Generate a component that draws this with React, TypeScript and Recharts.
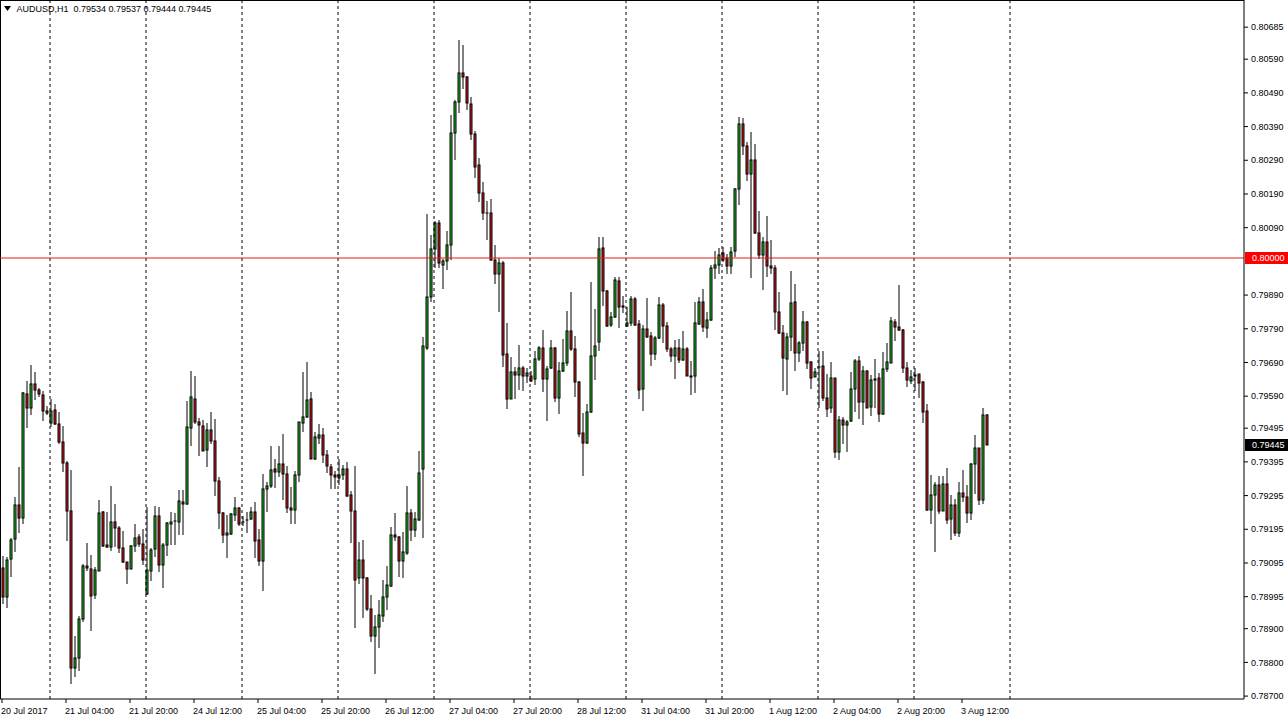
import { ComposedChart, Bar, XAxis, YAxis, ReferenceLine } from 'recharts'

// AUDUSD H1, one bar per hour from 20 Jul 2017 12:00 to 3 Aug 2017 18:00
const opens = [
  0.7908, 0.78993, 0.79107, 0.79166, 0.79267, 0.79229, 0.79596, 0.79555, 0.79626, 0.79609,
  0.79594, 0.79547, 0.7951, 0.79549, 0.79507, 0.79455, 0.79392, 0.79248, 0.78783, 0.78813,
  0.78929, 0.79087, 0.79077, 0.79, 0.79072, 0.79247, 0.79149, 0.79141, 0.79216, 0.79199,
  0.79139, 0.79098, 0.79078, 0.79146, 0.79172, 0.79151, 0.79003, 0.79072, 0.79136, 0.79235,
  0.79088, 0.79148, 0.79212, 0.79219, 0.79218, 0.79277, 0.79269, 0.79497, 0.79581, 0.79514,
  0.79502, 0.7943, 0.79489, 0.79458, 0.79339, 0.79243, 0.79178, 0.79181, 0.79238, 0.79259,
  0.79216, 0.79222, 0.79225, 0.79247, 0.79163, 0.791, 0.79314, 0.79322, 0.79375, 0.79364,
  0.79388, 0.79359, 0.79259, 0.79252, 0.79356, 0.7951, 0.79527, 0.79581, 0.79405, 0.79465,
  0.79474, 0.79415, 0.79379, 0.79356, 0.79356, 0.79356, 0.79374, 0.79296, 0.79249, 0.79049,
  0.79104, 0.7905, 0.78958, 0.78879, 0.78904, 0.78938, 0.78993, 0.79026, 0.79179, 0.79173,
  0.79102, 0.79126, 0.79243, 0.79193, 0.79222, 0.79375, 0.79733, 0.79883, 0.80028, 0.80105,
  0.7998, 0.79991, 0.80039, 0.8037, 0.80463, 0.80548, 0.80537, 0.80457, 0.80367, 0.80275,
  0.80194, 0.80133, 0.80133, 0.79993, 0.79952, 0.79985, 0.79715, 0.79582, 0.79662, 0.79653,
  0.79675, 0.7965, 0.7965, 0.79641, 0.797, 0.79733, 0.79641, 0.79673, 0.79733, 0.79585,
  0.79665, 0.79687, 0.79784, 0.7973, 0.79633, 0.79482, 0.79451, 0.79543, 0.7971, 0.79752,
  0.8003, 0.79903, 0.79802, 0.79824, 0.79933, 0.79858, 0.79797, 0.79806, 0.79878, 0.79804,
  0.79611, 0.79789, 0.79769, 0.79715, 0.79763, 0.79861, 0.79797, 0.7973, 0.7971, 0.79733,
  0.79697, 0.7973, 0.79651, 0.79649, 0.79804, 0.7987, 0.79792, 0.79816, 0.7997, 0.79979,
  0.80015, 0.79999, 0.79975, 0.8002, 0.80205, 0.80397, 0.80333, 0.80249, 0.80291, 0.80073,
  0.80009, 0.80048, 0.79977, 0.7997, 0.79841, 0.79777, 0.797, 0.79767, 0.7987, 0.79717,
  0.79747, 0.7981, 0.7969, 0.79648, 0.79677, 0.7968, 0.79586, 0.79556, 0.79643, 0.79423,
  0.7952, 0.79504, 0.79515, 0.79611, 0.79695, 0.79574, 0.79665, 0.79558, 0.7964, 0.79643,
  0.79536, 0.7967, 0.79688, 0.7981, 0.79796, 0.79786, 0.79675, 0.79635, 0.7965, 0.79655,
  0.79632, 0.79546, 0.79253, 0.79296, 0.79327, 0.7925, 0.79329, 0.79225, 0.79266, 0.79185,
  0.79302, 0.79292, 0.79243, 0.79388, 0.79435, 0.79283, 0.79534,
]
const highs = [
  0.79117, 0.79112, 0.79168, 0.7929, 0.79381, 0.79601, 0.79636, 0.79683, 0.79663, 0.79614,
  0.79606, 0.79562, 0.79582, 0.79567, 0.79542, 0.79502, 0.79399, 0.79372, 0.78879, 0.78939,
  0.79092, 0.79154, 0.7912, 0.79084, 0.79283, 0.7925, 0.79247, 0.79324, 0.7927, 0.79205,
  0.79191, 0.79099, 0.79148, 0.7921, 0.79181, 0.79196, 0.79262, 0.79138, 0.79265, 0.79262,
  0.79153, 0.79217, 0.79247, 0.79244, 0.79311, 0.79312, 0.79576, 0.79665, 0.7965, 0.79525,
  0.79519, 0.79509, 0.79544, 0.79522, 0.79351, 0.79245, 0.79238, 0.79242, 0.7929, 0.79262,
  0.79235, 0.79245, 0.7926, 0.79277, 0.79196, 0.79359, 0.79334, 0.79443, 0.79403, 0.79443,
  0.79479, 0.79383, 0.79321, 0.79369, 0.79514, 0.79662, 0.79692, 0.79603, 0.79485, 0.79507,
  0.79497, 0.7943, 0.79388, 0.79369, 0.79403, 0.79386, 0.79396, 0.79309, 0.79382, 0.79156,
  0.79164, 0.79054, 0.79, 0.7894, 0.78985, 0.79044, 0.79087, 0.79202, 0.79244, 0.79176,
  0.79186, 0.79324, 0.79255, 0.79247, 0.79428, 0.79765, 0.80131, 0.80068, 0.80109, 0.80112,
  0.79996, 0.80079, 0.80425, 0.80468, 0.80647, 0.80632, 0.80539, 0.80479, 0.80378, 0.80297,
  0.80226, 0.80169, 0.80174, 0.80039, 0.79999, 0.7999, 0.79807, 0.79707, 0.79678, 0.79743,
  0.7968, 0.79674, 0.79664, 0.79725, 0.7974, 0.79787, 0.7968, 0.79757, 0.79735, 0.7969,
  0.7976, 0.79844, 0.79898, 0.79769, 0.79636, 0.79539, 0.79567, 0.7993, 0.79849, 0.80061,
  0.80063, 0.79905, 0.79841, 0.79943, 0.79943, 0.79888, 0.79854, 0.79888, 0.79883, 0.79816,
  0.79802, 0.79881, 0.79779, 0.79769, 0.79885, 0.79865, 0.79811, 0.79735, 0.79757, 0.7976,
  0.79784, 0.79735, 0.79695, 0.7987, 0.79883, 0.79908, 0.79839, 0.7998, 0.80022, 0.80029,
  0.80032, 0.80012, 0.80032, 0.80208, 0.80419, 0.80415, 0.80343, 0.80375, 0.80338, 0.8014,
  0.80063, 0.80125, 0.80054, 0.7998, 0.799, 0.79801, 0.79776, 0.79962, 0.79923, 0.79755,
  0.79843, 0.79813, 0.79693, 0.79673, 0.79724, 0.79724, 0.79655, 0.7969, 0.79645, 0.79531,
  0.79529, 0.79519, 0.79663, 0.797, 0.79709, 0.7968, 0.79667, 0.79652, 0.797, 0.7966,
  0.79722, 0.79749, 0.79825, 0.79818, 0.7992, 0.79789, 0.79692, 0.79667, 0.79673, 0.79657,
  0.79635, 0.79568, 0.79356, 0.79334, 0.79353, 0.79353, 0.79376, 0.79297, 0.79284, 0.79334,
  0.7937, 0.79327, 0.79393, 0.79475, 0.79437, 0.79556, 0.79537,
]
const lows = [
  0.78973, 0.78962, 0.79053, 0.79127, 0.79183, 0.79211, 0.79495, 0.79534, 0.7958, 0.79587,
  0.79515, 0.79535, 0.79498, 0.79505, 0.79448, 0.79364, 0.79161, 0.78736, 0.78756, 0.78774,
  0.78919, 0.79072, 0.78892, 0.78988, 0.7907, 0.79141, 0.79139, 0.79131, 0.79141, 0.79126,
  0.79094, 0.79034, 0.79076, 0.79129, 0.79141, 0.79088, 0.79001, 0.79042, 0.79113, 0.79068,
  0.79022, 0.79115, 0.79148, 0.79149, 0.79179, 0.79177, 0.79268, 0.79443, 0.79507, 0.79413,
  0.79426, 0.7938, 0.79448, 0.79294, 0.79196, 0.79153, 0.79111, 0.79179, 0.7922, 0.79205,
  0.79205, 0.79183, 0.79222, 0.79111, 0.79087, 0.79011, 0.79245, 0.79319, 0.79317, 0.79349,
  0.79282, 0.79242, 0.7921, 0.7921, 0.79334, 0.79485, 0.79525, 0.79403, 0.79402, 0.79448,
  0.79393, 0.79361, 0.79314, 0.79314, 0.79327, 0.79342, 0.79291, 0.79153, 0.78902, 0.79032,
  0.78932, 0.78953, 0.78862, 0.78765, 0.78844, 0.78919, 0.78955, 0.79024, 0.79161, 0.79052,
  0.79051, 0.7912, 0.79161, 0.79172, 0.79219, 0.79168, 0.79728, 0.79869, 0.79971, 0.79971,
  0.79909, 0.79963, 0.79995, 0.80292, 0.8043, 0.80501, 0.80438, 0.8035, 0.80237, 0.80167,
  0.80114, 0.80054, 0.79991, 0.79924, 0.7984, 0.79678, 0.79552, 0.79582, 0.79582, 0.79608,
  0.79606, 0.79628, 0.79633, 0.79624, 0.79695, 0.79601, 0.79515, 0.79671, 0.79572, 0.79537,
  0.79661, 0.7968, 0.79725, 0.79589, 0.79468, 0.79354, 0.79448, 0.79539, 0.79639, 0.79723,
  0.79858, 0.79794, 0.79794, 0.79822, 0.79791, 0.79836, 0.79794, 0.79799, 0.79799, 0.79582,
  0.79547, 0.79763, 0.7968, 0.79697, 0.7976, 0.79747, 0.7972, 0.7969, 0.79641, 0.79687,
  0.79693, 0.79649, 0.79594, 0.79598, 0.79802, 0.79779, 0.79764, 0.79814, 0.79938, 0.79954,
  0.79987, 0.79954, 0.79954, 0.80004, 0.80158, 0.80305, 0.80229, 0.79942, 0.80071, 0.79997,
  0.79906, 0.79945, 0.79952, 0.79787, 0.79774, 0.79604, 0.79594, 0.79723, 0.79664, 0.7969,
  0.79724, 0.7967, 0.79611, 0.79647, 0.79556, 0.79576, 0.79527, 0.79541, 0.79406, 0.794,
  0.79449, 0.79423, 0.79514, 0.79544, 0.79522, 0.79504, 0.79554, 0.79531, 0.79556, 0.79512,
  0.79534, 0.79663, 0.79687, 0.79754, 0.79784, 0.7966, 0.79616, 0.79627, 0.79606, 0.79584,
  0.79509, 0.7925, 0.7921, 0.79129, 0.7924, 0.7925, 0.79212, 0.79163, 0.79175, 0.79173,
  0.79277, 0.79215, 0.79222, 0.79301, 0.79267, 0.79271, 0.79444,
]
const closes = [
  0.78993, 0.79104, 0.79164, 0.79267, 0.79229, 0.79598, 0.79555, 0.79626, 0.79608, 0.79596,
  0.79545, 0.79539, 0.79547, 0.79507, 0.79453, 0.79391, 0.79248, 0.78783, 0.78813, 0.78929,
  0.79087, 0.79079, 0.78996, 0.79074, 0.79243, 0.79146, 0.79141, 0.79216, 0.79199, 0.79138,
  0.79097, 0.79076, 0.79146, 0.79169, 0.79151, 0.79104, 0.79074, 0.79133, 0.79235, 0.79088,
  0.79149, 0.79213, 0.79217, 0.79219, 0.7928, 0.79269, 0.79499, 0.79588, 0.79512, 0.79504,
  0.79428, 0.79489, 0.79456, 0.79337, 0.79242, 0.79178, 0.79183, 0.7924, 0.79259, 0.79212,
  0.79218, 0.79222, 0.79247, 0.79159, 0.791, 0.79314, 0.79324, 0.79371, 0.79365, 0.79388,
  0.79359, 0.79257, 0.79252, 0.79356, 0.79512, 0.79527, 0.79578, 0.79405, 0.79468, 0.79474,
  0.79415, 0.79382, 0.79356, 0.79349, 0.79347, 0.79374, 0.79294, 0.79248, 0.79046, 0.79104,
  0.7905, 0.78957, 0.78877, 0.78906, 0.78941, 0.78995, 0.7903, 0.79179, 0.79171, 0.79102,
  0.79129, 0.79243, 0.79193, 0.79225, 0.79362, 0.79739, 0.79883, 0.80028, 0.80103, 0.79985,
  0.79991, 0.8004, 0.8037, 0.80463, 0.80548, 0.80537, 0.8046, 0.80367, 0.80271, 0.80194,
  0.80133, 0.80133, 0.79993, 0.79952, 0.79985, 0.79712, 0.79582, 0.79662, 0.79653, 0.79675,
  0.7965, 0.79659, 0.79635, 0.79701, 0.79733, 0.79641, 0.79671, 0.79733, 0.79585, 0.79665,
  0.79687, 0.79784, 0.7973, 0.79631, 0.79478, 0.79451, 0.79543, 0.7971, 0.7974, 0.80027,
  0.79903, 0.79799, 0.79824, 0.79935, 0.79856, 0.79854, 0.79807, 0.79878, 0.79802, 0.79608,
  0.79789, 0.79767, 0.79715, 0.79763, 0.79861, 0.79797, 0.7973, 0.79708, 0.79733, 0.79697,
  0.7973, 0.79649, 0.79646, 0.79807, 0.7987, 0.79796, 0.79816, 0.7997, 0.7998, 0.80009,
  0.79995, 0.79975, 0.80019, 0.80205, 0.80399, 0.80331, 0.80249, 0.80291, 0.80073, 0.8001,
  0.80048, 0.79975, 0.79969, 0.79839, 0.79776, 0.79702, 0.79767, 0.79866, 0.79717, 0.79748,
  0.7981, 0.79687, 0.79645, 0.79662, 0.79677, 0.79584, 0.79553, 0.79643, 0.79423, 0.7952,
  0.79504, 0.79514, 0.79611, 0.79695, 0.79574, 0.79665, 0.79556, 0.79638, 0.79637, 0.79536,
  0.7967, 0.79692, 0.79813, 0.79794, 0.79786, 0.79675, 0.79637, 0.79648, 0.79652, 0.7963,
  0.79544, 0.79252, 0.79296, 0.79327, 0.7925, 0.79329, 0.79222, 0.79266, 0.79185, 0.79302,
  0.79292, 0.79243, 0.79388, 0.79435, 0.79283, 0.79534, 0.79445,
]

// time scale: a label every 16 bars, a dotted day separator every 24 bars
const labelBars = [0, 16, 32, 48, 64, 80, 96, 112, 128, 144, 160, 176, 192, 208, 224, 240]
const timeLabels = [
  '20 Jul 2017', '21 Jul 04:00', '21 Jul 20:00', '24 Jul 12:00', '25 Jul 04:00', '25 Jul 20:00',
  '26 Jul 12:00', '27 Jul 04:00', '27 Jul 20:00', '28 Jul 12:00', '31 Jul 04:00', '31 Jul 20:00',
  '1 Aug 12:00', '2 Aug 04:00', '2 Aug 20:00', '3 Aug 12:00',
]
const daySeparators = [12, 36, 60, 84, 108, 132, 156, 180, 204, 228, 252]

const priceTicks = [
  0.80685, 0.8059, 0.8049, 0.8039, 0.8029, 0.8019, 0.8009, 0.7989, 0.7979, 0.7969, 0.7959,
  0.79495, 0.79395, 0.79295, 0.79195, 0.79095, 0.78995, 0.789, 0.788, 0.787,
]
const alertLevel = 0.8
const symbolTitle = 'AUDUSD,H1'

const SLOTS = 311 // 4px per bar across the 1244px pane
const PRICE_TOP = 0.807656
const PRICE_BOTTOM = 0.786914
const FONT = "'Liberation Sans', Arial, sans-serif"
const BULL = '#22C322'
const BEAR = '#D51F1F'

const last = opens.length - 1
const rows: any[] = []
for (let i = 0; i < SLOTS; i++) {
  if (i <= last) {
    rows.push({ idx: i, o: opens[i], h: highs[i], l: lows[i], c: closes[i], range: [lows[i], highs[i]] })
  } else {
    rows.push({ idx: i, range: null })
  }
}

function Candle(props: any) {
  const { x, y, width, height, payload } = props
  if (!payload || payload.o == null) return null
  const { o, h, l, c } = payload
  const top = Math.min(y, y + height)
  const bot = Math.max(y, y + height)
  const toY = (v: number) => (h === l ? top : top + ((h - v) / (h - l)) * (bot - top))
  const cx = Math.round(x + width / 2)
  const yO = Math.round(toY(o))
  const yC = Math.round(toY(c))
  const bTop = Math.min(yO, yC)
  const bBot = Math.max(yO, yC)
  return (
    <g>
      <line x1={cx} x2={cx} y1={Math.round(toY(h))} y2={Math.round(toY(l))} stroke="#000" strokeWidth={1} />
      {bBot - bTop >= 1 ? (
        <rect x={cx - 1} y={bTop} width={2} height={bBot - bTop} fill={c >= o ? BULL : BEAR} stroke="#000" strokeWidth={1} />
      ) : (
        <line x1={cx - 1.5} x2={cx + 1.5} y1={bTop} y2={bTop} stroke="#000" strokeWidth={1} />
      )}
    </g>
  )
}

function TimeTick(props: any) {
  const { x, y, payload } = props
  const k = labelBars.indexOf(payload.value)
  if (k < 0) return null
  return (
    <g>
      <line x1={x} x2={x} y1={y} y2={y + 4} stroke="#000" />
      <text x={x - 1} y={y + 15} fontSize={9} fontFamily={FONT} fill="#000" textAnchor="start">
        {timeLabels[k]}
      </text>
    </g>
  )
}

function PriceTag(props: any) {
  const { viewBox, text, bg } = props
  if (!viewBox) return null
  const left = viewBox.x + viewBox.width + 1
  const cy = Math.round(viewBox.y)
  return (
    <g>
      <rect x={left} y={cy - 6} width={43} height={12} fill={bg} />
      <text x={left + 7} y={cy} dy="0.355em" fontSize={9} fontFamily={FONT} fill="#fff">
        {text}
      </text>
    </g>
  )
}

export default function App() {
  const header = `${symbolTitle}  ${opens[last].toFixed(5)} ${highs[last].toFixed(5)} ${lows[last].toFixed(5)} ${closes[last].toFixed(5)}`
  return (
    <div style={{ position: 'absolute', left: -0.5, top: -0.5, width: 1288, height: 724, background: '#fff' }}>
      <div style={{ position: 'absolute', left: 0.5, top: 0.5, width: 1, height: 699, background: '#000' }} />
      <div style={{ position: 'absolute', left: 0.5, top: 0.5, width: 1244, height: 1, background: '#000' }} />
      <div
        style={{
          position: 'absolute', left: 4, top: 3, fontFamily: FONT, fontSize: 9, color: '#000',
          whiteSpace: 'pre', display: 'flex', alignItems: 'center', lineHeight: '12px',
        }}
      >
        <svg width={8} height={6} style={{ marginRight: 5 }}>
          <polygon points="0,0 7,0 3.5,5" fill="#000" />
        </svg>
        {header}
      </div>
      <div style={{ position: 'absolute', left: 0, top: 0 }}>
        <ComposedChart
          width={1288}
          height={724}
          data={rows}
          margin={{ top: 0, right: 0, bottom: 0, left: 0 }}
          barCategoryGap={0}
          barGap={0}
        >
          <XAxis
            dataKey="idx"
            type="category"
            ticks={labelBars}
            interval={0}
            height={25}
            tickSize={0}
            tickMargin={0}
            tickLine={false}
            axisLine={{ stroke: '#000' }}
            tick={<TimeTick />}
          />
          <YAxis
            orientation="right"
            type="number"
            domain={[PRICE_BOTTOM, PRICE_TOP]}
            allowDataOverflow
            ticks={priceTicks}
            interval={0}
            width={44}
            tickSize={4}
            tickMargin={3}
            tickLine={{ stroke: '#000' }}
            axisLine={{ stroke: '#000' }}
            tick={{ fontSize: 9, fontFamily: FONT, fill: '#000' }}
            tickFormatter={(v: number) => v.toFixed(5)}
          />
          {daySeparators.map((d) => (
            <ReferenceLine key={d} x={d} stroke="#000" strokeDasharray="3 3" />
          ))}
          <ReferenceLine
            y={alertLevel}
            stroke="#E31A1A"
            label={<PriceTag text={alertLevel.toFixed(5)} bg="#FF0000" />}
          />
          <Bar dataKey="range" barSize={3} shape={<Candle />} isAnimationActive={false} />
          <ReferenceLine
            y={closes[last]}
            stroke="none"
            label={<PriceTag text={closes[last].toFixed(5)} bg="#000" />}
          />
        </ComposedChart>
      </div>
    </div>
  )
}
